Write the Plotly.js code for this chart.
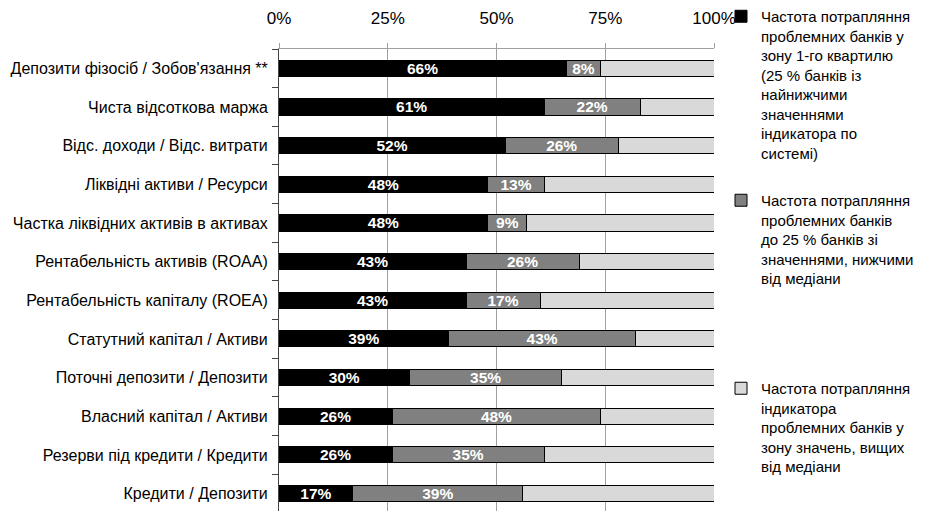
<!DOCTYPE html>
<html>
<head>
<meta charset="utf-8">
<script src="https://cdn.plot.ly/plotly-3.0.1.min.js"></script>
<style>html,body{margin:0;padding:0;background:#fff;}#chart{width:931px;height:511px;}</style>
</head>
<body>
<div id="chart"></div>
<script>
const categories = [
  "Депозити фізосіб / Зобов'язання **",
  "Чиста відсоткова маржа",
  "Відс. доходи / Відс. витрати",
  "Ліквідні активи / Ресурси",
  "Частка ліквідних активів в активах",
  "Рентабельність активів (ROAA)",
  "Рентабельність капіталу (ROEA)",
  "Статутний капітал / Активи",
  "Поточні депозити / Депозити",
  "Власний капітал / Активи",
  "Резерви під кредити / Кредити",
  "Кредити / Депозити"
];
const q1Values = [66, 61, 52, 48, 48, 43, 43, 39, 30, 26, 26, 17];
const belowMedianValues = [8, 22, 26, 13, 9, 26, 17, 43, 35, 48, 35, 39];
const aboveMedianValues = [26, 17, 22, 39, 43, 31, 40, 18, 35, 26, 39, 44];
const seriesNames = [
  "Частота потрапляння<br>проблемних банків у<br>зону 1-го квартилю<br>(25 % банків із<br>найнижчими<br>значеннями<br>індикатора по<br>системі)",
  "Частота потрапляння<br>проблемних банків<br>до 25 % банків зі<br>значеннями, нижчими<br>від медіани",
  "Частота потрапляння<br>індикатора<br>проблемних банків у<br>зону значень, вищих<br>від медіани"
];
const tickVals = [0, 25, 50, 75, 100];
const tickText = ["0%", "25%", "50%", "75%", "100%"];

const FONT = "Liberation Sans, Arial, Helvetica, sans-serif";
const pct = a => a.map(v => v + "%");

const common = {
  type: 'bar', orientation: 'h', y: categories,
  hoverinfo: 'skip',
  textposition: 'inside', insidetextanchor: 'middle', textangle: 0,
  constraintext: 'none',
  textfont: {color: '#ffffff', size: 15.5, family: FONT, weight: 'bold'}
};

const traces = [
  Object.assign({}, common, {
    x: q1Values, name: seriesNames[0], text: pct(q1Values),
    marker: {color: '#000000', line: {color: '#000000', width: 1}},
    legend: 'legend'
  }),
  Object.assign({}, common, {
    x: belowMedianValues, name: seriesNames[1], text: pct(belowMedianValues),
    marker: {color: '#808080', line: {color: '#000000', width: 1}},
    legend: 'legend2'
  }),
  Object.assign({}, common, {
    x: aboveMedianValues, name: seriesNames[2], text: '',
    marker: {color: '#d9d9d9', line: {color: '#000000', width: 1}},
    legend: 'legend3'
  })
];

const legendBase = {
  xref: 'container', yref: 'container', xanchor: 'left', yanchor: 'top',
  font: {family: FONT, size: 15, color: '#000'},
  bgcolor: 'rgba(0,0,0,0)', valign: 'top', itemwidth: 30,
  borderwidth: 0, tracegroupgap: 0
};

const layout = {
  width: 931, height: 511,
  margin: {l: 279, r: 217, t: 49, b: 0, pad: 0},
  paper_bgcolor: '#ffffff', plot_bgcolor: '#ffffff',
  barmode: 'stack', bargap: 0.585,
  font: {family: FONT, color: '#000'},
  xaxis: {
    side: 'top', range: [0, 100], tickvals: tickVals, ticktext: tickText,
    showgrid: true, gridcolor: '#a0a0a0', gridwidth: 1,
    ticks: 'outside', ticklen: 5, tickcolor: '#a0a0a0',
    showline: true, linecolor: '#a0a0a0', linewidth: 1,
    zeroline: false, tickfont: {size: 17, family: FONT, color: '#000'},
    ticklabelstandoff: 12,
    fixedrange: true
  },
  yaxis: {
    type: 'category', autorange: false, range: [11.45, -0.5],
    tickson: 'boundaries', ticks: 'outside', ticklen: 6, tickcolor: '#444',
    showline: true, linecolor: '#444', linewidth: 1,
    showgrid: false, zeroline: false,
    tickfont: {size: 16, family: FONT, color: '#000'},
    ticklabelstandoff: 7,
    fixedrange: true
  },
  showlegend: true,
  legend: Object.assign({}, legendBase, {x: 721/931, y: 1}),
  legend2: Object.assign({}, legendBase, {x: 721/931, y: 1 - 184/511}),
  legend3: Object.assign({}, legendBase, {x: 721/931, y: 1 - 372/511})
};

Plotly.newPlot('chart', traces, layout, {displayModeBar: false, staticPlot: true});
</script>
</body>
</html>
